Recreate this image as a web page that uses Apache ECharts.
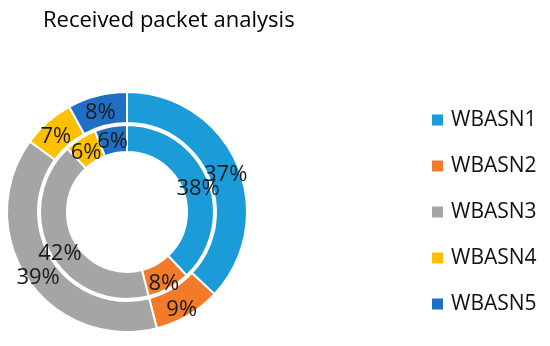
<!DOCTYPE html>
<html>
<head>
<meta charset="utf-8">
<script src="https://cdn.jsdelivr.net/npm/echarts@6/dist/echarts.min.js"></script>
<style>html,body{margin:0;padding:0;background:#fff;}#c{width:550px;height:346px;}</style>
</head>
<body>
<div id="c"></div>
<script>
var categories = ['WBASN1', 'WBASN2', 'WBASN3', 'WBASN4', 'WBASN5'];
var innerValues = [38, 8, 42, 6, 6];
var outerValues = [37, 9, 39, 7, 8];
var colors = ['#1b9cd8', '#f27b29', '#a5a5a5', '#ffc000', '#1f6fc5'];
var titleText = 'Received packet analysis';

function mk(vals) {
  return categories.map(function (n, i) { return { name: n, value: vals[i] }; });
}
var font = '"Open Sans", sans-serif';
var chart = echarts.init(document.getElementById('c'), null, { renderer: 'canvas' });
var labelStyle = {
  show: true, position: 'inside', formatter: '{c}%',
  color: '#1a1a1a', fontSize: 22, fontFamily: font, fontWeight: 'normal',
  textBorderWidth: 0, overflow: 'none', offset: [0, 5]
};
chart.setOption({
  animation: false,
  color: colors,
  title: {
    text: titleText, left: 38, top: 5,
    textStyle: { fontFamily: font, fontSize: 22, fontWeight: 'normal', color: '#000' }
  },
  legend: {
    orient: 'vertical', left: 430, top: 108, padding: 0,
    itemWidth: 13, itemHeight: 13, itemGap: 22,
    icon: 'rect',
    data: categories,
    textStyle: { fontFamily: font, fontSize: 21, color: '#111', lineHeight: 24, padding: [0, 0, 0, 2] },
    selectedMode: false
  },
  series: [
    {
      type: 'pie', name: 'inner', center: [127, 212], radius: [60, 87],
      startAngle: 90, clockwise: true, avoidLabelOverlap: false,
      itemStyle: { borderColor: '#fff', borderWidth: 2 },
      label: labelStyle, labelLine: { show: false },
      labelLayout: { hideOverlap: false },
      emphasis: { disabled: true },
      data: mk(innerValues)
    },
    {
      type: 'pie', name: 'outer', center: [127, 212], radius: [89, 120],
      startAngle: 90, clockwise: true, avoidLabelOverlap: false,
      itemStyle: { borderColor: '#fff', borderWidth: 2 },
      label: labelStyle, labelLine: { show: false },
      labelLayout: { hideOverlap: false },
      emphasis: { disabled: true },
      data: mk(outerValues)
    }
  ]
});
</script>
</body>
</html>
